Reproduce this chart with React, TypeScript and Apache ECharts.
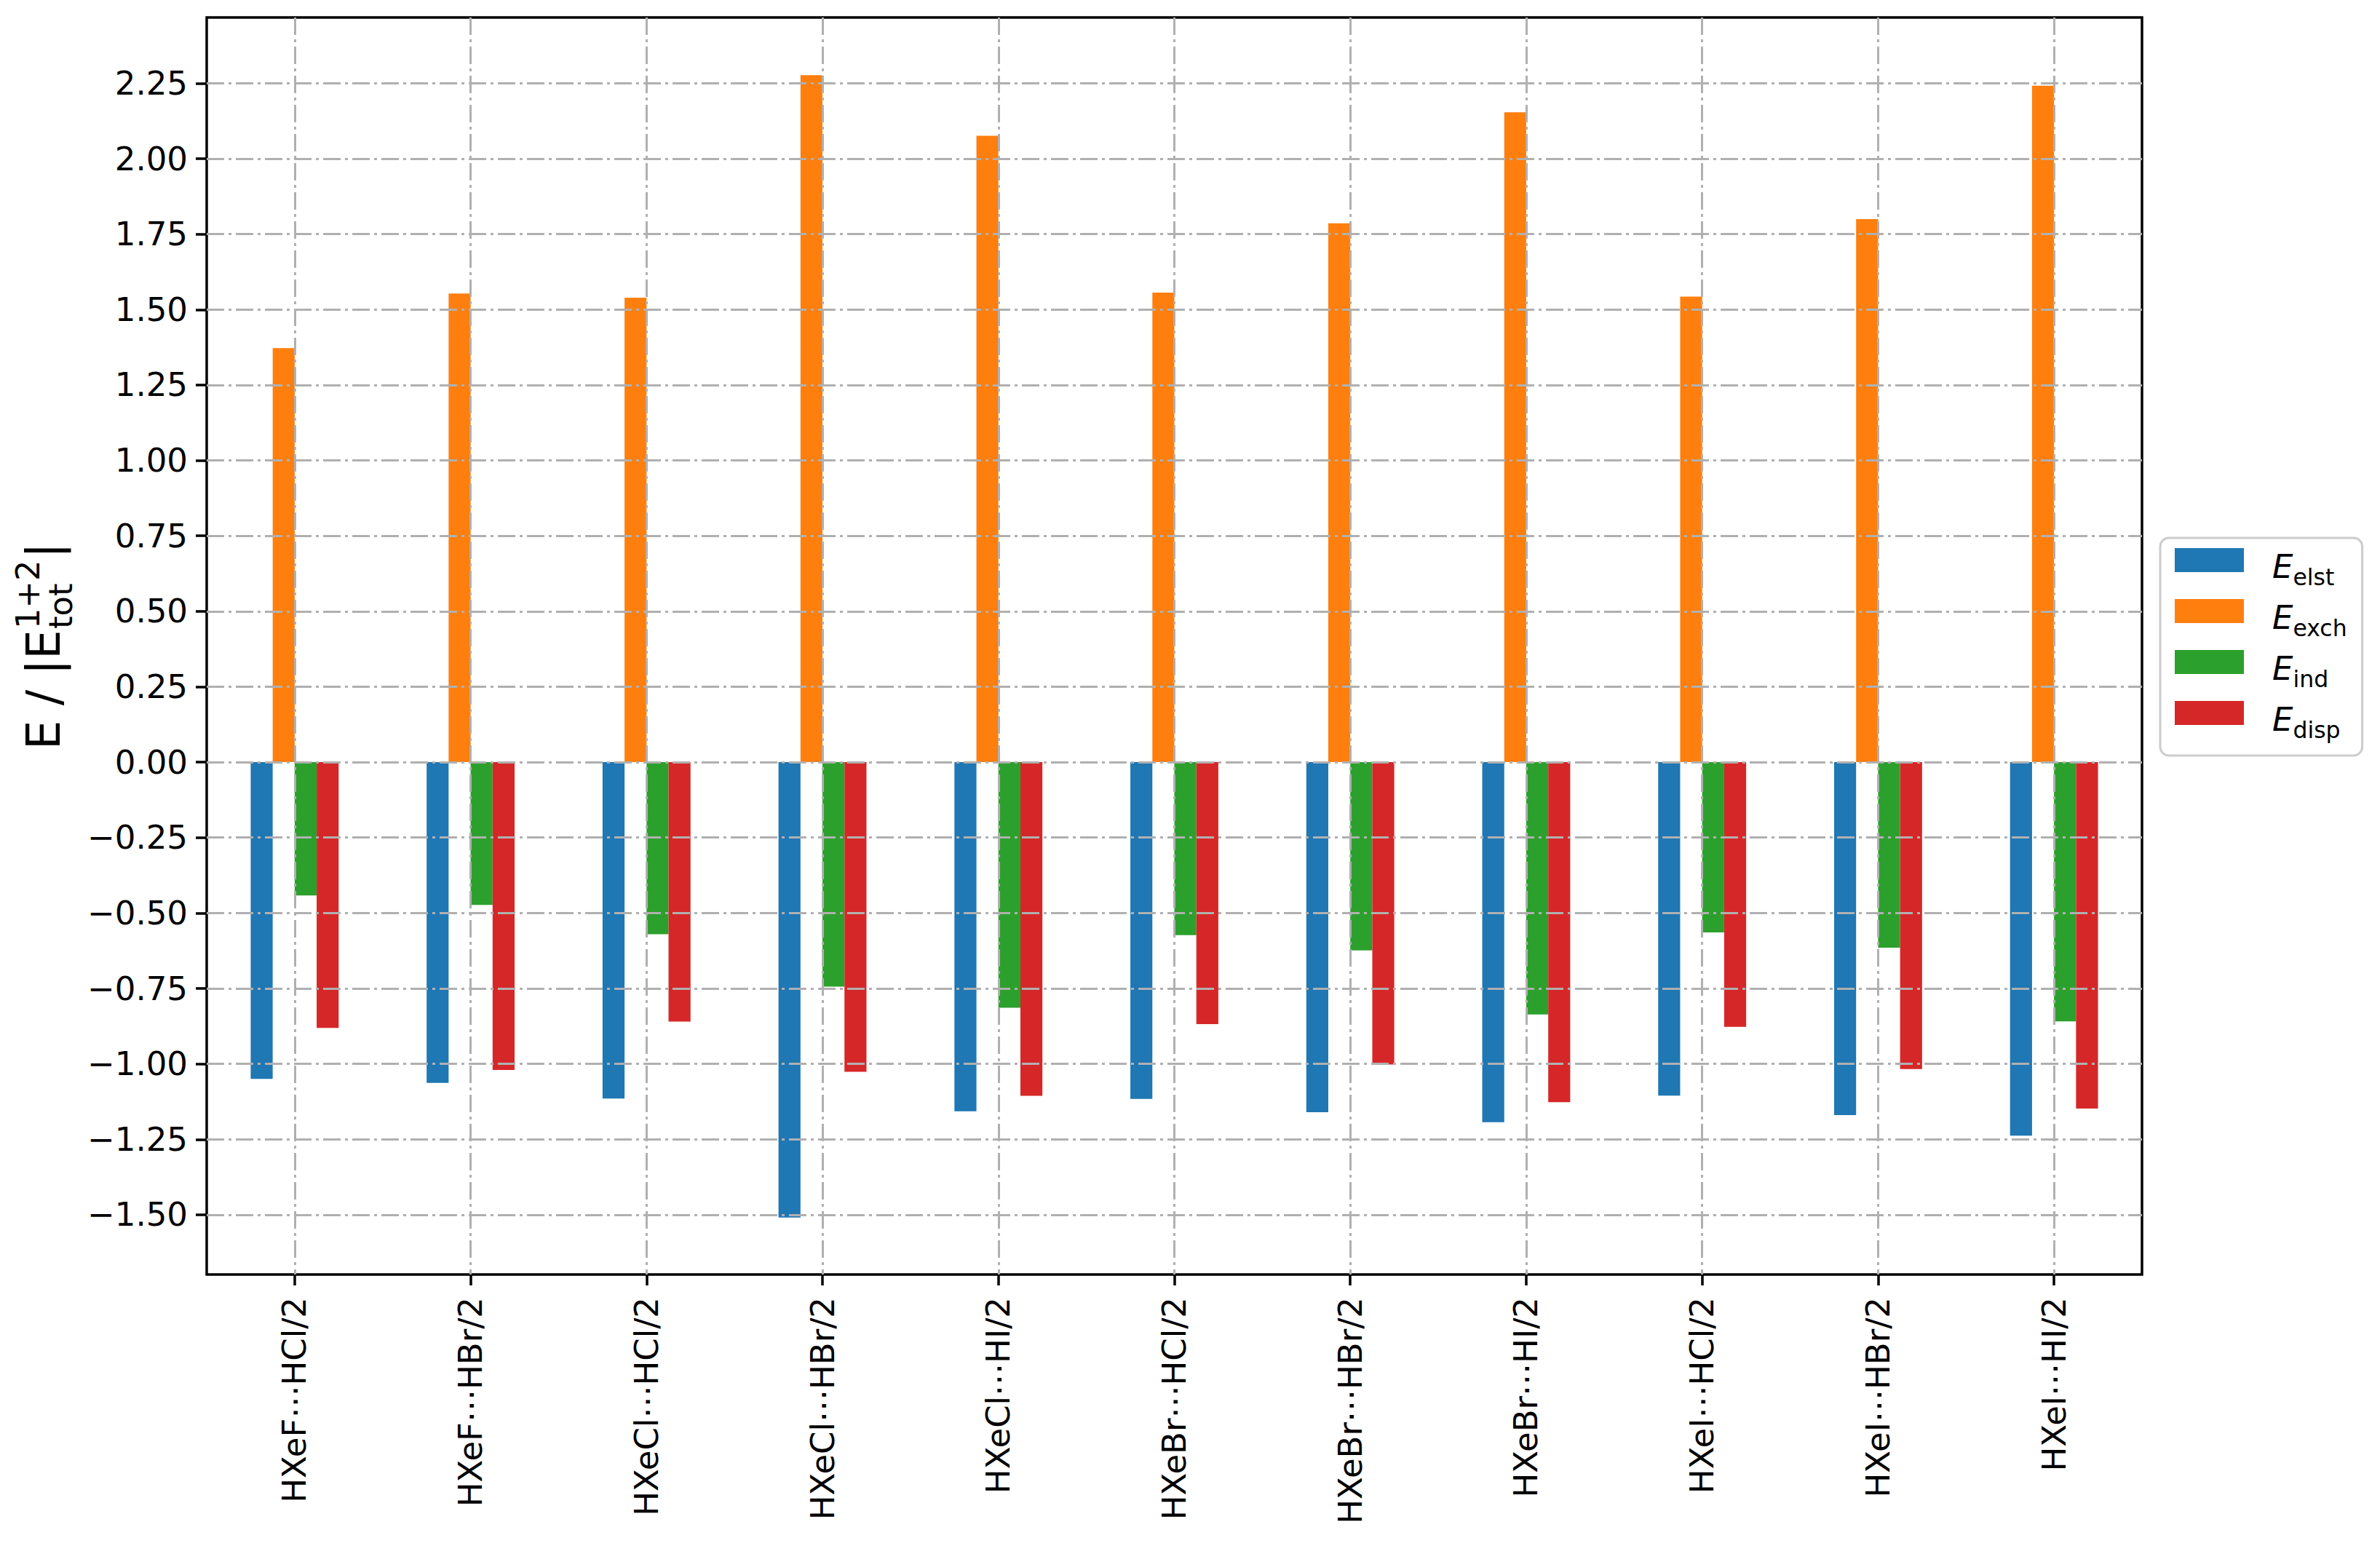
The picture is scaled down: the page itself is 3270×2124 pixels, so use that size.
import React, { useEffect, useRef } from 'react';
import * as echarts from 'echarts';

const categories = [
  'HXeF⋯HCl/2',
  'HXeF⋯HBr/2',
  'HXeCl⋯HCl/2',
  'HXeCl⋯HBr/2',
  'HXeCl⋯HI/2',
  'HXeBr⋯HCl/2',
  'HXeBr⋯HBr/2',
  'HXeBr⋯HI/2',
  'HXeI⋯HCl/2',
  'HXeI⋯HBr/2',
  'HXeI⋯HI/2',
];

const eElst = [-1.05, -1.063, -1.115, -1.509, -1.157, -1.116, -1.16, -1.193, -1.105, -1.17, -1.238];
const eExch = [1.372, 1.553, 1.539, 2.277, 2.076, 1.556, 1.786, 2.154, 1.543, 1.8, 2.242];
const eInd = [-0.442, -0.473, -0.57, -0.744, -0.814, -0.573, -0.624, -0.836, -0.564, -0.615, -0.859];
const eDisp = [-0.881, -1.02, -0.86, -1.026, -1.106, -0.868, -1.002, -1.127, -0.877, -1.017, -1.148];

const seriesNames = ['elst', 'exch', 'ind', 'disp'];
const seriesColors = ['#1f77b4', '#ff7f0e', '#2ca02c', '#d62728'];

const yTicks = [-1.5, -1.25, -1.0, -0.75, -0.5, -0.25, 0, 0.25, 0.5, 0.75, 1.0, 1.25, 1.5, 1.75, 2.0, 2.25];
const yMin = -1.698;
const yMax = 2.468;

const FONT = 'DejaVu Sans';
const gridLine = { color: '#b0b0b0', width: 3, type: [24, 6, 4, 6] as number[] };

function fmtTick(v: number): string {
  const s = Math.abs(v).toFixed(2);
  return v < -1e-9 ? '\u2212' + s : s;
}

export default function App() {
  const ref = useRef<HTMLDivElement | null>(null);

  useEffect(() => {
    if (!ref.current) return;
    const chart = echarts.init(ref.current, undefined, { renderer: 'svg' });
    const values = [eElst, eExch, eInd, eDisp];

    const option: any = {
      animation: false,
      backgroundColor: '#ffffff',
      grid: {
        show: true,
        left: 284,
        right: 327,
        top: 24,
        bottom: 373,
        borderColor: '#000000',
        borderWidth: 3.5,
        backgroundColor: 'transparent',
        containLabel: false,
        outerBoundsMode: 'none',
      },
      legend: {
        show: true,
        orient: 'vertical',
        left: 2968,
        top: 739,
        padding: [8, 21, 19, 20],
        itemGap: 8,
        itemWidth: 95,
        itemHeight: 33,
        icon: 'rect',
        selectedMode: false,
        borderColor: '#cccccc',
        borderWidth: 3,
        borderRadius: 12,
        backgroundColor: 'rgba(255,255,255,0.8)',
        data: seriesNames,
        formatter: (name: string) => `{e|E}{s|${name}}`,
        textStyle: {
          fontFamily: FONT,
          color: '#000',
          padding: [0, 0, 0, 34],
          rich: {
            e: {
              fontFamily: FONT,
              fontStyle: 'italic',
              fontSize: 45,
              lineHeight: 45,
              color: '#000',
              verticalAlign: 'top',
              padding: [9, 0, 0, 0],
            },
            s: {
              fontFamily: FONT,
              fontSize: 31.5,
              lineHeight: 32,
              color: '#000',
              verticalAlign: 'top',
              padding: [30, 0, 0, 0],
            },
          },
        },
      },
      xAxis: {
        type: 'category',
        data: categories,
        z: 3,
        axisLine: { show: false, onZero: false },
        axisTick: {
          show: true,
          alignWithLabel: true,
          interval: 0,
          length: 15,
          lineStyle: { color: '#000', width: 3.5 },
        },
        axisLabel: {
          interval: 0,
          rotate: 90,
          margin: 31,
          fontSize: 45,
          fontFamily: FONT,
          color: '#000',
          hideOverlap: false,
        },
        splitLine: {
          show: true,
          alignWithLabel: true,
          interval: 0,
          lineStyle: gridLine,
        },
      },
      yAxis: {
        type: 'value',
        min: yMin,
        max: yMax,
        z: 3,
        axisLine: { show: false, onZero: false },
        axisTick: {
          show: true,
          length: 15,
          customValues: yTicks,
          lineStyle: { color: '#000', width: 3.5 },
        },
        axisLabel: {
          customValues: yTicks,
          formatter: (v: number) => fmtTick(v),
          margin: 26,
          fontSize: 45,
          fontFamily: FONT,
          color: '#000',
          showMinLabel: true,
          showMaxLabel: true,
        },
        splitLine: {
          show: true,
          lineStyle: gridLine,
        },
      },
      series: seriesNames.map((name, i) => ({
        name,
        type: 'bar',
        data: values[i],
        barWidth: '12.5%',
        barGap: '0%',
        itemStyle: { color: seriesColors[i] },
        silent: true,
        z: 2,
      })),
      graphic: [
        {
          type: 'group',
          x: 82,
          y: 1030,
          rotation: Math.PI / 2,
          children: [
            {
              type: 'text',
              x: 0,
              y: -22,
              style: {
                text: 'E / |E',
                fontSize: 64,
                fontFamily: FONT,
                fill: '#000',
                textAlign: 'left',
                textVerticalAlign: 'middle',
                align: 'left',
                verticalAlign: 'middle',
              },
            },
            {
              type: 'text',
              x: 166,
              y: -44,
              style: {
                text: '1+2',
                fontSize: 44.8,
                fontFamily: FONT,
                fill: '#000',
                textAlign: 'left',
                textVerticalAlign: 'middle',
                align: 'left',
                verticalAlign: 'middle',
              },
            },
            {
              type: 'text',
              x: 166,
              y: 1,
              style: {
                text: 'tot',
                fontSize: 44.8,
                fontFamily: FONT,
                fill: '#000',
                textAlign: 'left',
                textVerticalAlign: 'middle',
                align: 'left',
                verticalAlign: 'middle',
              },
            },
            {
              type: 'text',
              x: 263,
              y: -22,
              style: {
                text: '|',
                fontSize: 64,
                fontFamily: FONT,
                fill: '#000',
                textAlign: 'left',
                textVerticalAlign: 'middle',
                align: 'left',
                verticalAlign: 'middle',
              },
            },
          ],
        },
      ],
    };

    chart.setOption(option);
    return () => {
      chart.dispose();
    };
  }, []);

  return (
    <div
      ref={ref}
      style={{ position: 'absolute', left: 0, top: 0, width: '3270px', height: '2124px', background: '#fff' }}
    />
  );
}
